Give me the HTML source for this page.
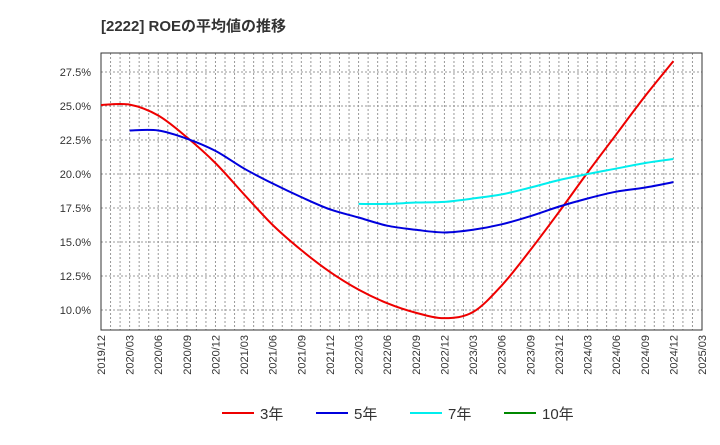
<!DOCTYPE html>
<html><head><meta charset="utf-8"><style>
body{margin:0;background:#fff;font-family:"Liberation Sans","Noto Sans CJK JP",sans-serif}
svg text{font-family:"Liberation Sans","Noto Sans CJK JP",sans-serif}
</style></head><body>
<svg id="c" width="720" height="440" xmlns="http://www.w3.org/2000/svg">
<text x="101" y="31" font-size="15" font-weight="bold" fill="#333">[2222]  ROEの平均値の推移</text>
<g id="grid"></g><g id="axes"></g><g id="series"></g><g id="legend"></g>
</svg>
<script>
const xLabels=["2019/12","2020/03","2020/06","2020/09","2020/12","2021/03","2021/06","2021/09","2021/12","2022/03","2022/06","2022/09","2022/12","2023/03","2023/06","2023/09","2023/12","2024/03","2024/06","2024/09","2024/12","2025/03"];
const yTicks=[10,12.5,15,17.5,20,22.5,25,27.5];
const s3=[25.07,25.1,24.3,22.7,20.8,18.5,16.25,14.4,12.8,11.5,10.5,9.8,9.4,9.85,11.8,14.4,17.2,20.1,22.9,25.7,28.3];
const s5=[null,23.2,23.2,22.6,21.7,20.4,19.3,18.3,17.4,16.8,16.2,15.9,15.7,15.9,16.3,16.9,17.6,18.2,18.7,19.0,19.4];
const s7=[null,null,null,null,null,null,null,null,null,17.8,17.8,17.9,17.95,18.2,18.5,19.0,19.55,20.0,20.4,20.8,21.1];
const s10=[];
const L=101,R=702,T=53,B=330;
const X=i=>L+(R-L)*i/21;
const Y=v=>310-(v-10)/2.5*34;
const NS="http://www.w3.org/2000/svg";
function mk(p,tag,at){const e=document.createElementNS(NS,tag);for(const k in at)e.setAttribute(k,at[k]);p.appendChild(e);return e;}
const g=document.getElementById('grid'),ax=document.getElementById('axes'),se=document.getElementById('series'),lg=document.getElementById('legend');
for(let m=1;m<63;m++){const x=L+(R-L)*m/63;
const l=mk(g,'line',{x1:x,x2:x,y1:T,y2:B,stroke:'#999','stroke-width':1,'stroke-dasharray':'2,2'});

}
yTicks.forEach(v=>{const y=Y(v);
const l=mk(g,'line',{x1:L,x2:R,y1:y,y2:y,stroke:'#999','stroke-width':1,'stroke-dasharray':'2,2'});


const t=mk(ax,'text',{x:91,y:y+4,'font-size':11,'text-anchor':'end',fill:'#333'});t.textContent=v.toFixed(1)+'%';

});
xLabels.forEach((s,i)=>{const x=X(i);
const t=mk(ax,'text',{x:0,y:0,'font-size':11,'text-anchor':'end',fill:'#333',transform:`translate(${x+4},335) rotate(-90)`});t.textContent=s;

});
const fr=mk(ax,'rect',{x:L,y:T,width:R-L,height:B-T,fill:'none',stroke:'#333','stroke-width':1});


function path(arr){const p=[];arr.forEach((v,i)=>{if(v!=null)p.push([X(i),Y(v)]);});if(p.length<2)return '';
let d=`M${p[0][0]},${p[0][1]}`;for(let i=0;i<p.length-1;i++){const p0=p[i-1]||p[i],p1=p[i],p2=p[i+1],p3=p[i+2]||p2;
d+=` C${p1[0]+(p2[0]-p0[0])/6},${p1[1]+(p2[1]-p0[1])/6} ${p2[0]-(p3[0]-p1[0])/6},${p2[1]-(p3[1]-p1[1])/6} ${p2[0]},${p2[1]}`;}return d;}
[[s3,'#ee0000','series-3y'],[s5,'#0000dd','series-5y'],[s7,'#00eeee','series-7y'],[s10,'#008800','series-10y']].forEach(([a,c,n])=>{const d=path(a);if(!d)return;
const e=mk(se,'path',{d:d,fill:'none',stroke:c,'stroke-width':2});

});
[['3年','#ee0000',222],['5年','#0000dd',316],['7年','#00eeee',410],['10年','#008800',504]].forEach(([t,c,x])=>{
const gg=mk(lg,'g',{});


mk(gg,'line',{x1:x,x2:x+32,y1:413,y2:413,stroke:c,'stroke-width':2});
const tx=mk(gg,'text',{x:x+38,y:419,'font-size':15,fill:'#333'});tx.textContent=t;});
</script>
</body></html>
